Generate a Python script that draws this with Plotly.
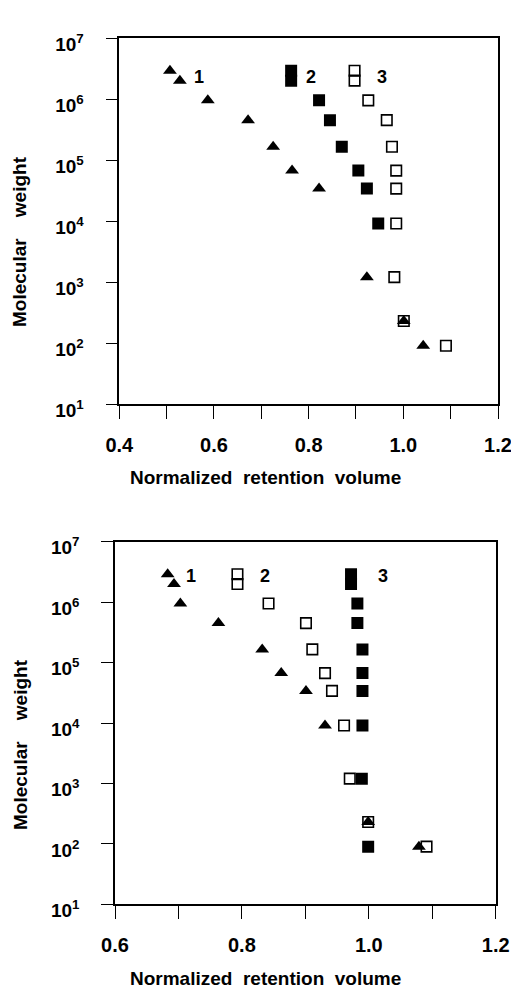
import math
import plotly.graph_objects as go

# ---------------- data ----------------
# Top panel
top_s1_x = [0.507, 0.528, 0.587, 0.672, 0.725, 0.765, 0.822, 0.923, 1.001, 1.042]
top_s1_mw = [2.9e6, 2.0e6, 9.5e5, 4.5e5, 1.65e5, 6.7e4, 3.4e4, 1.2e3, 230, 90]

top_s2_x = [0.763, 0.763, 0.822, 0.845, 0.870, 0.905, 0.923, 0.947]
top_s2_mw = [2.9e6, 2.0e6, 9.5e5, 4.5e5, 1.65e5, 6.7e4, 3.4e4, 9.1e3]

top_s3_x = [0.897, 0.897, 0.926, 0.965, 0.976, 0.985, 0.985, 0.985, 0.981, 1.001, 1.090]
top_s3_mw = [2.9e6, 2.0e6, 9.5e5, 4.5e5, 1.65e5, 6.7e4, 3.4e4, 9.1e3, 1.2e3, 230, 90]

# Bottom panel
bot_s1_x = [0.683, 0.693, 0.703, 0.763, 0.832, 0.862, 0.901, 0.931, 0.999, 1.079]
bot_s1_mw = [2.9e6, 2.0e6, 9.5e5, 4.5e5, 1.65e5, 6.7e4, 3.4e4, 9.1e3, 230, 90]

bot_s2_x = [0.793, 0.793, 0.842, 0.901, 0.911, 0.931, 0.942, 0.961, 0.970, 0.999, 1.091]
bot_s2_mw = [2.9e6, 2.0e6, 9.5e5, 4.5e5, 1.65e5, 6.7e4, 3.4e4, 9.1e3, 1.2e3, 230, 90]

bot_s3_x = [0.972, 0.972, 0.982, 0.982, 0.990, 0.990, 0.990, 0.990, 0.989, 0.999]
bot_s3_mw = [2.9e6, 2.0e6, 9.5e5, 4.5e5, 1.65e5, 6.7e4, 3.4e4, 9.1e3, 1.2e3, 90]

# series labels (text, x, mw)
top_labels = [("1", 0.569, 2.27e6), ("2", 0.806, 2.27e6), ("3", 0.954, 2.27e6)]
bot_labels = [("1", 0.719, 2.7e6), ("2", 0.836, 2.7e6), ("3", 1.023, 2.7e6)]

top_x_ticks = [0.4, 0.6, 0.8, 1.0, 1.2]
top_x_minor = [0.5, 0.7, 0.9, 1.1]
bot_x_ticks = [0.6, 0.8, 1.0, 1.2]
bot_x_minor = [0.7, 0.9, 1.1]

y_tickvals = [10, 100, 1e3, 1e4, 1e5, 1e6, 1e7]
y_ticktext = ["10<sup>1</sup>", "10<sup>2</sup>", "10<sup>3</sup>", "10<sup>4</sup>",
              "10<sup>5</sup>", "10<sup>6</sup>", "10<sup>7</sup>"]

x_title = "Normalized\u00a0 retention\u00a0 volume"
y_title = "Molecular\u00a0\u00a0\u00a0 weight"

FONT = "Liberation Sans, Arial, sans-serif"

# ---------------- figure ----------------
fig = go.Figure()

def tri(x, y, xa, ya):
    return go.Scatter(x=x, y=y, mode="markers", xaxis=xa, yaxis=ya,
                      marker=dict(symbol="triangle-up", size=12, color="black",
                                  line=dict(width=0)),
                      showlegend=False, hoverinfo="x+y")

def fsq(x, y, xa, ya):
    return go.Scatter(x=x, y=y, mode="markers", xaxis=xa, yaxis=ya,
                      marker=dict(symbol="square", size=12, color="black",
                                  line=dict(width=0)),
                      showlegend=False, hoverinfo="x+y")

def osq(x, y, xa, ya):
    return go.Scatter(x=x, y=y, mode="markers", xaxis=xa, yaxis=ya,
                      marker=dict(symbol="square-open", size=10.5, color="black",
                                  line=dict(width=1.6, color="black")),
                      showlegend=False, hoverinfo="x+y")

# top panel (x, y)
fig.add_trace(osq(top_s3_x, top_s3_mw, "x", "y"))
fig.add_trace(fsq(top_s2_x, top_s2_mw, "x", "y"))
fig.add_trace(tri(top_s1_x, top_s1_mw, "x", "y"))
# bottom panel (x2, y2)
fig.add_trace(osq(bot_s2_x, bot_s2_mw, "x2", "y2"))
fig.add_trace(fsq(bot_s3_x, bot_s3_mw, "x2", "y2"))
fig.add_trace(tri(bot_s1_x, bot_s1_mw, "x2", "y2"))

W, H = 511, 990

def xaxis_common(ticks, minor):
    return dict(
        showgrid=False, zeroline=False, showline=True, linecolor="black", linewidth=1.5,
        mirror=True, ticks="outside", ticklen=13, tickwidth=1.2, tickcolor="black",
        tickmode="array", tickvals=ticks, ticktext=["%.1f" % v for v in ticks],
        minor=dict(tickmode="array", tickvals=minor, ticks="outside", ticklen=13,
                   tickwidth=1.2, tickcolor="black"),
        tickfont=dict(family=FONT, size=20, color="black", weight="bold"),
        ticklabelstandoff=9, ticklabeloverflow="allow", automargin=False,
    )

yaxis_common = dict(
    type="log", range=[1, 7], showgrid=False, zeroline=False, showline=True,
    linecolor="black", linewidth=1.5, mirror=True, ticks="outside", ticklen=12,
    tickwidth=1.2, tickcolor="black", tickvals=y_tickvals, ticktext=y_ticktext,
    tickfont=dict(family=FONT, size=19, color="black", weight="bold"),
    ticklabelstandoff=18, ticklabelshift=6, ticklabeloverflow="allow", automargin=False,
)

fig.update_layout(
    width=W, height=H, margin=dict(l=0, r=0, t=0, b=0),
    paper_bgcolor="white", plot_bgcolor="white",
    xaxis=dict(domain=[119.3 / W, 498 / W], range=[0.4, 1.2], anchor="y",
               **xaxis_common(top_x_ticks, top_x_minor)),
    yaxis=dict(domain=[1 - 404 / H, 1 - 38 / H], anchor="x", **yaxis_common),
    xaxis2=dict(domain=[115 / W, 495.7 / W], range=[0.6, 1.2], anchor="y2",
                **xaxis_common(bot_x_ticks, bot_x_minor)),
    yaxis2=dict(domain=[1 - 904.3 / H, 1 - 541.7 / H], anchor="x2", **yaxis_common),
)

annos = []
lab_font = dict(family=FONT, size=18, color="black", weight="bold")
for t, xv, mw in top_labels:
    annos.append(dict(text=t, x=xv, y=math.log10(mw), xref="x", yref="y",
                      showarrow=False, font=lab_font))
for t, xv, mw in bot_labels:
    annos.append(dict(text=t, x=xv, y=math.log10(mw), xref="x2", yref="y2",
                      showarrow=False, font=lab_font))

title_font = dict(family=FONT, size=19, color="black", weight="bold")
# axis titles
annos.append(dict(text=x_title, x=265 / W, y=1 - 477 / H, xref="paper", yref="paper",
                  showarrow=False, xanchor="center", yanchor="middle", font=title_font))
annos.append(dict(text=x_title, x=265 / W, y=1 - 978 / H, xref="paper", yref="paper",
                  showarrow=False, xanchor="center", yanchor="middle", font=title_font))
annos.append(dict(text=y_title, x=19 / W, y=1 - 242 / H, xref="paper", yref="paper",
                  showarrow=False, xanchor="center", yanchor="middle", textangle=-90,
                  font=title_font))
annos.append(dict(text=y_title, x=20 / W, y=1 - 745 / H, xref="paper", yref="paper",
                  showarrow=False, xanchor="center", yanchor="middle", textangle=-90,
                  font=title_font))
fig.update_layout(annotations=annos)

fig.write_html("out.html")
